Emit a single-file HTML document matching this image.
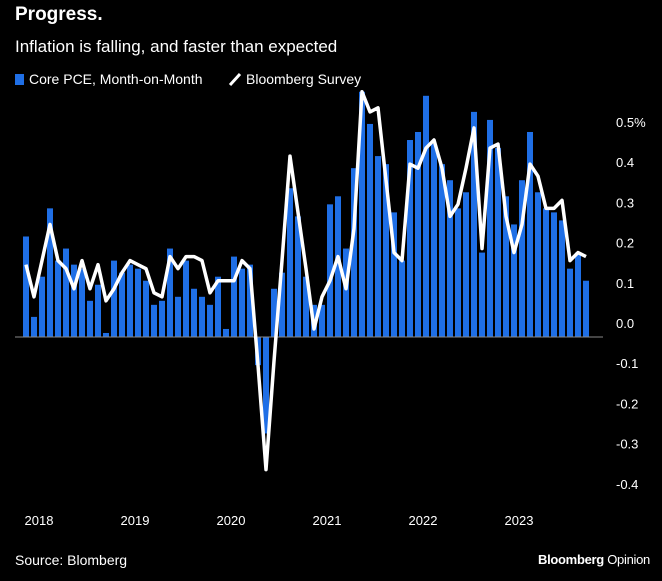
<!DOCTYPE html>
<html><head><meta charset="utf-8"><style>
body{margin:0;background:#000;width:662px;height:581px;overflow:hidden;font-family:"Liberation Sans",sans-serif;color:#fff}
.t{position:absolute;white-space:nowrap}
</style></head><body>
<div class="t" style="left:15px;top:4px;font-size:19px;font-weight:bold">Progress.</div>
<div class="t" style="left:15px;top:37px;font-size:17px">Inflation is falling, and faster than expected</div>
<div class="t" style="left:15px;top:71px;font-size:14px"><span style="display:inline-block;width:9px;height:11px;background:#1f6fe6;margin-right:5px;vertical-align:-1px"></span>Core PCE, Month-on-Month</div>
<div class="t" style="left:228px;top:71px;font-size:14px"><svg width="14" height="14" style="vertical-align:-2px;margin-right:4px"><line x1="2" y1="13" x2="12" y2="2" stroke="#fff" stroke-width="3"/></svg>Bloomberg Survey</div>
<svg id="c" width="662" height="581" style="position:absolute;left:0;top:0"></svg>
<div class="t" style="left:15px;top:552px;font-size:14px">Source: Blomberg</div>
<div class="t" style="left:538px;top:552px;font-size:13px;font-weight:bold;letter-spacing:-0.3px">Bloomberg <span style="font-weight:normal">Opinion</span></div>
<script>
const coreValues=[0.25,0.05,0.15,0.32,0.19,0.22,0.18,0.17,0.09,0.13,0.01,0.19,0.16,0.18,0.17,0.14,0.08,0.09,0.22,0.10,0.19,0.12,0.10,0.08,0.15,0.02,0.20,0.17,0.18,-0.07,-0.24,0.12,0.16,0.37,0.30,0.15,0.08,0.08,0.33,0.35,0.22,0.42,0.61,0.53,0.45,0.43,0.31,0.19,0.49,0.51,0.60,0.48,0.43,0.39,0.32,0.36,0.56,0.21,0.54,0.47,0.35,0.28,0.39,0.51,0.36,0.32,0.31,0.29,0.17,0.21,0.14];
const surveyValues=[0.18,0.10,0.19,0.28,0.19,0.17,0.12,0.19,0.12,0.18,0.09,0.12,0.16,0.19,0.18,0.17,0.11,0.10,0.20,0.17,0.20,0.20,0.19,0.11,0.14,0.14,0.14,0.19,0.17,-0.07,-0.33,-0.06,0.19,0.45,0.31,0.17,0.02,0.10,0.14,0.20,0.12,0.27,0.61,0.56,0.57,0.39,0.21,0.19,0.43,0.42,0.47,0.49,0.42,0.30,0.33,0.42,0.52,0.22,0.47,0.48,0.30,0.21,0.28,0.43,0.40,0.32,0.32,0.34,0.19,0.21,0.20];
const yTicks=[0.5,0.4,0.3,0.2,0.1,0,-0.1,-0.2,-0.3,-0.4];
const yTickLabels=["0.5%","0.4","0.3","0.2","0.1","0.0","-0.1","-0.2","-0.3","-0.4"];
const yearLabels=["2018","2019","2020","2021","2022","2023"];
const svg=document.getElementById('c');const NS='http://www.w3.org/2000/svg';
const x=i=>26+i*8;const y=v=>337-v*402;
function mk(t,a){const e=document.createElementNS(NS,t);for(const k in a)e.setAttribute(k,a[k]);svg.appendChild(e);return e;}
coreValues.forEach((v,i)=>{const r=mk('rect',{x:x(i)-3,y:Math.min(y(v),y(0)),width:6,height:Math.abs(y(v)-y(0)),fill:'#1f6fe6'});

});
const z=mk('line',{x1:15,x2:603,y1:y(0),y2:y(0),stroke:'#888','stroke-width':1});


const p=mk('polyline',{points:surveyValues.map((v,i)=>x(i)+','+y(v)).join(' '),fill:'none',stroke:'#fff','stroke-width':3.5,'stroke-linejoin':'round'});


yTicks.forEach((v,i)=>{const t=mk('text',{x:616,y:y(v)-9,fill:'#fff','font-size':13,'font-family':'Liberation Sans'});t.textContent=yTickLabels[i];

});
yearLabels.forEach((s,i)=>{const t=mk('text',{x:x(i*12)+13,y:525,fill:'#fff','font-size':13,'text-anchor':'middle','font-family':'Liberation Sans'});t.textContent=s;

});
</script>
</body></html>
